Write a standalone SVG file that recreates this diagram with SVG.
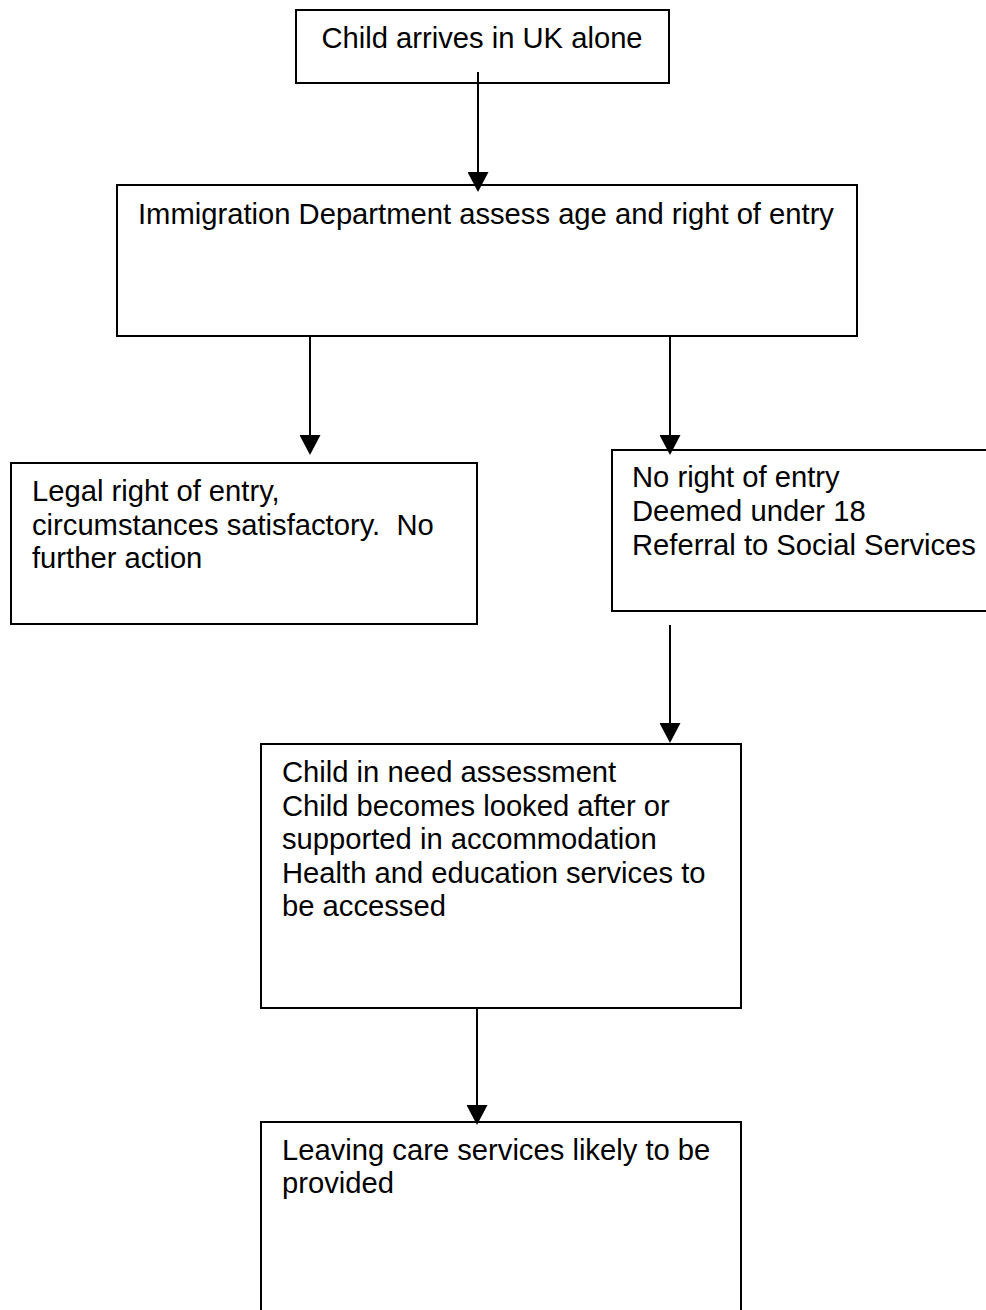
<svg xmlns="http://www.w3.org/2000/svg" width="986" height="1310" viewBox="0 0 986 1310">
<style>
.box{fill:#fff;stroke:#000;stroke-width:2}
.t{font-family:"Liberation Sans",Arial,sans-serif;font-size:29.2px;fill:#000}
.c{stroke:#000;stroke-width:2;fill:none;marker-end:url(#ah)}
</style>
<defs>
<marker id="ah" viewBox="0 0 20 21" markerWidth="20" markerHeight="21" refX="10" refY="10.5" orient="auto" markerUnits="userSpaceOnUse">
<path d="M0,0 L20,10.5 L0,21 z" fill="#000"/>
</marker>
</defs>
<rect width="986" height="1310" fill="#fff"/>
<g id="n1"><rect class="box" x="296" y="10" width="373" height="73"/><text class="t" x="482" y="48" text-anchor="middle">Child arrives in UK alone</text></g>
<g id="n2"><rect class="box" x="117" y="185" width="740" height="151"/><text class="t" x="138" y="224">Immigration Department assess age and right of entry</text></g>
<g id="n3"><rect class="box" x="11" y="463" width="466" height="161"/><text class="t"><tspan x="32" y="501">Legal right of entry,</tspan><tspan x="32" y="534.5">circumstances satisfactory.&#160; No</tspan><tspan x="32" y="568">further action</tspan></text></g>
<g id="n4"><rect class="box" x="612" y="450" width="376" height="161"/><text class="t"><tspan x="632" y="487">No right of entry</tspan><tspan x="632" y="521">Deemed under 18</tspan><tspan x="632" y="555">Referral to Social Services</tspan></text></g>
<g id="n5"><rect class="box" x="261" y="744" width="480" height="264"/><text class="t"><tspan x="282" y="782">Child in need assessment</tspan><tspan x="282" y="815.5">Child becomes looked after or</tspan><tspan x="282" y="849">supported in accommodation</tspan><tspan x="282" y="882.5">Health and education services to</tspan><tspan x="282" y="916">be accessed</tspan></text></g>
<g id="n6"><rect class="box" x="261" y="1122" width="480" height="200"/><text class="t"><tspan x="282" y="1160">Leaving care services likely to be</tspan><tspan x="282" y="1193">provided</tspan></text></g>
<g id="connectors">
<line class="c" x1="478" y1="72" x2="478" y2="182"/>
<line class="c" x1="310" y1="336" x2="310" y2="445"/>
<line class="c" x1="670" y1="336" x2="670" y2="445"/>
<line class="c" x1="670" y1="625" x2="670" y2="733"/>
<line class="c" x1="477" y1="1008" x2="477" y2="1115"/>
</g>
</svg>
